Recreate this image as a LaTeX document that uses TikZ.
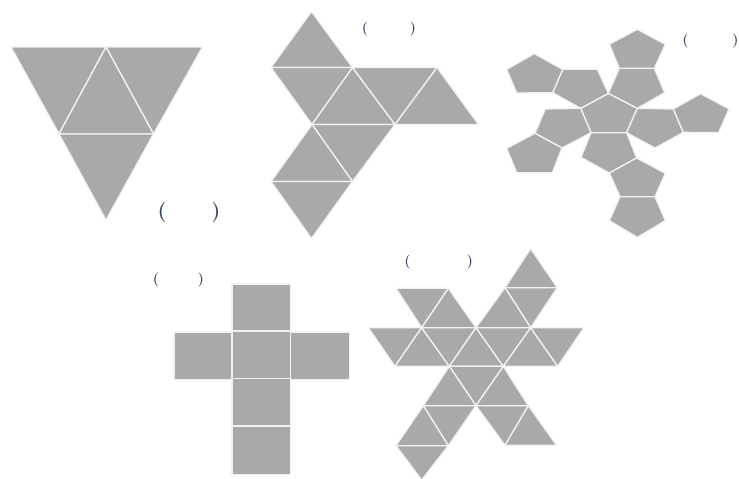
\documentclass[tikz,border=0pt]{standalone}
\definecolor{facegray}{HTML}{A9A9A9}
\definecolor{parenink}{HTML}{3A4A60}
\tikzset{
  face/.style={fill=facegray, draw=white!85!facegray, line width=1.3pt, line join=round},
  parenbig/.style={inner sep=0pt, text=parenink, font=\bfseries\fontsize{20}{20}\selectfont},
  parensmall/.style={inner sep=0pt, text=parenink, font=\bfseries\fontsize{14}{14}\selectfont}
}
\begin{document}
\begin{tikzpicture}[x=1pt, y=-1pt, line cap=round]
\clip (0,0) rectangle (739,479);

% ---------- net (a): four triangles ----------
\coordinate (ta) at (11,47);
\coordinate (tb) at (106,47);
\coordinate (tc) at (202.5,47);
\coordinate (td) at (59,134);
\coordinate (te) at (153.5,134);
\coordinate (tf) at (106,220);
\foreach \p/\q/\r in {ta/tb/td,tb/tc/te,tb/td/te,td/te/tf}
  \draw[face] (\p) -- (\q) -- (\r) -- cycle;
\node[parenbig] (lefta) at (162,213) {(};
\node[parenbig] (righta) at (216,213) {)};

% ---------- net (b): eight triangles ----------
\coordinate (oa) at (311.5,11.5);
\coordinate (ob) at (271,67.5);
\coordinate (oc) at (352.5,67.5);
\coordinate (od) at (437,67.5);
\coordinate (oe) at (312,124.5);
\coordinate (of) at (395,124.5);
\coordinate (og) at (478.5,124.5);
\coordinate (oh) at (271,181.5);
\coordinate (oi) at (352.5,181.5);
\coordinate (oj) at (311.5,238.5);
\foreach \p/\q/\r in {oa/ob/oc,ob/oc/oe,oc/oe/of,oc/od/of,od/of/og,oe/of/oi,oe/oi/oh,oh/oi/oj}
  \draw[face] (\p) -- (\q) -- (\r) -- cycle;
\node[parensmall] (leftb) at (365,29.5) {(};
\node[parensmall] (rightb) at (413,29.5) {)};

% ---------- net (c): twelve pentagons ----------
\begin{scope}[shift={(490,10)}, scale=1/3]
  \draw[face] (355,250) -- (442,295) -- (410,368) -- (303,368) -- (272,295) -- cycle;
  \draw[face] (388,175) -- (493,175) -- (524,248) -- (442,295) -- (355,250) -- cycle;
  \draw[face] (442,58) -- (526,103) -- (493,175) -- (388,175) -- (358,103) -- cycle;
  \draw[face] (218,178) -- (322,178) -- (355,250) -- (272,295) -- (188,248) -- cycle;
  \draw[face] (133,131) -- (218,178) -- (188,248) -- (80,249) -- (50,178) -- cycle;
  \draw[face] (442,295) -- (550,297) -- (580,367) -- (495,414) -- (410,368) -- cycle;
  \draw[face] (632,251) -- (717,297) -- (686,368) -- (580,367) -- (550,297) -- cycle;
  \draw[face] (166,297) -- (272,295) -- (303,368) -- (216,414) -- (135,370) -- cycle;
  \draw[face] (135,370) -- (216,414) -- (187,488) -- (80,488) -- (50,415) -- cycle;
  \draw[face] (303,368) -- (410,368) -- (440,444) -- (358,489) -- (273,442) -- cycle;
  \draw[face] (440,444) -- (526,490) -- (495,560) -- (390,560) -- (358,489) -- cycle;
  \draw[face] (390,560) -- (495,560) -- (526,632) -- (442,682) -- (358,632) -- cycle;
\end{scope}
\node[parensmall] (leftc) at (685.5,41) {(};
\node[parensmall] (rightc) at (735.5,41) {)};

% ---------- net (d): six squares ----------
\foreach \y/\h in {284/47,331/47.5,378.5/47.5,426/48.5}
  \draw[face] (232,\y) rectangle ++(58.5,\h);
\draw[face] (174,332) rectangle (232,379.5);
\draw[face] (290.5,332) rectangle (349.5,379.5);
\node[parensmall] (leftd) at (156,280) {(};
\node[parensmall] (rightd) at (201,280) {)};

% ---------- net (e): twenty triangles ----------
\begin{scope}[shift={(350,240)}, scale=1/3]
  \coordinate (ia) at (542,26);
  \coordinate (ib) at (138,145);
  \coordinate (ic) at (295,145);
  \coordinate (id) at (465,143);
  \coordinate (ie) at (622,143);
  \coordinate (if) at (55,263);
  \coordinate (ig) at (215,263);
  \coordinate (ih) at (378,263);
  \coordinate (ii) at (542,263);
  \coordinate (ij) at (702,263);
  \coordinate (ik) at (135,379);
  \coordinate (il) at (298,379);
  \coordinate (im) at (460,379);
  \coordinate (in) at (623,379);
  \coordinate (io) at (220,497);
  \coordinate (ip) at (378,497);
  \coordinate (iq) at (535,497);
  \coordinate (ir) at (138,617);
  \coordinate (is) at (295,617);
  \coordinate (it) at (465,616);
  \coordinate (iu) at (620,616);
  \coordinate (iv) at (215,720);
  \foreach \p/\q/\r in {ia/id/ie,id/ie/ii,id/ii/ih,ib/ic/ig,ic/ig/ih,if/ig/ik,ig/ik/il,ig/ih/il,
      ih/il/im,ih/ii/im,ii/im/in,ii/ij/in,il/im/ip,il/ip/io,im/ip/iq,io/ip/is,io/is/ir,ir/is/iv,ip/iq/it,iq/it/iu}
    \draw[face] (\p) -- (\q) -- (\r) -- cycle;
\end{scope}
\node[parensmall] (lefte) at (407.5,262) {(};
\node[parensmall] (righte) at (470,262) {)};

\end{tikzpicture}
\end{document}
